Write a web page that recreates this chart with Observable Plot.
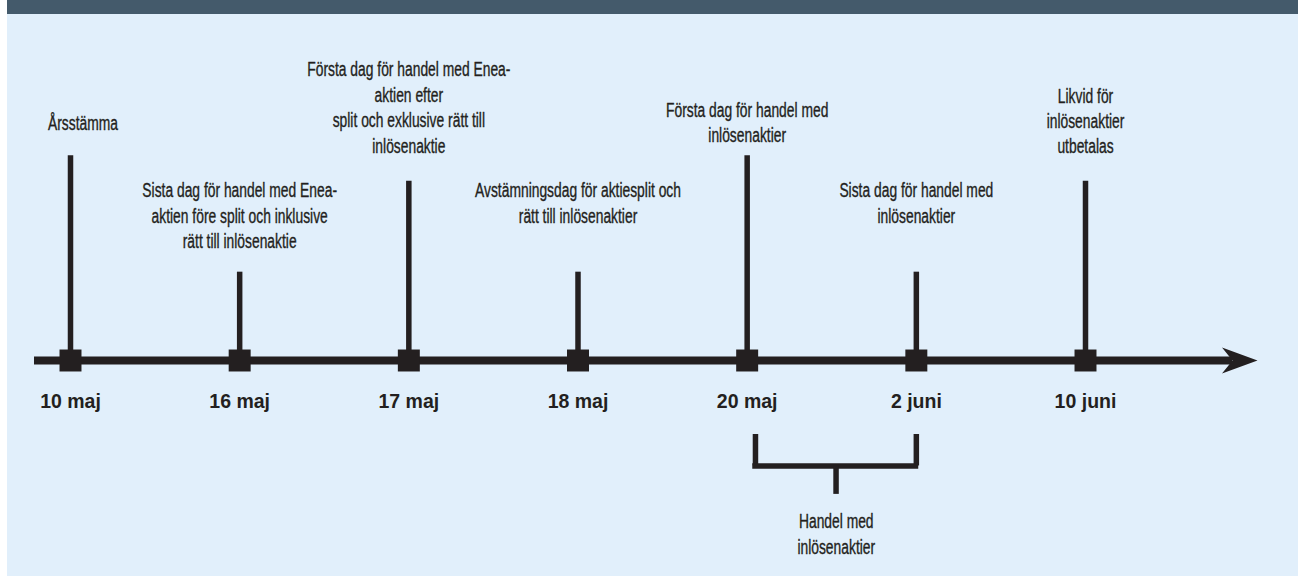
<!DOCTYPE html>
<html><head><meta charset="utf-8">
<script src="https://cdn.jsdelivr.net/npm/d3@7"></script>
<script src="https://cdn.jsdelivr.net/npm/@observablehq/plot@0.6"></script>
<style>
html,body{margin:0;padding:0;background:#fff;}
#wrap{position:relative;width:1298px;height:576px;overflow:hidden;}
#header{position:absolute;left:7px;top:0;width:1291px;height:14px;background:#445a6b;}
#panel{position:absolute;left:7px;top:14px;width:1291px;height:562px;background:#e1effb;}
#chart{position:absolute;left:0;top:14px;}
</style></head><body>
<div id="wrap"><div id="header"></div><div id="panel"></div><div id="chart"></div></div>
<script>
// ---- data ----
const dates = ["10 maj","16 maj","17 maj","18 maj","20 maj","2 juni","10 juni"];
const events = [
  "Årsstämma",
  "Sista dag för handel med Enea-\naktien före split och inklusive\nrätt till inlösenaktie",
  "Första dag för handel med Enea-\naktien efter\nsplit och exklusive rätt till\ninlösenaktie",
  "Avstämningsdag för aktiesplit och\nrätt till inlösenaktier",
  "Första dag för handel med\ninlösenaktier",
  "Sista dag för handel med\ninlösenaktier",
  "Likvid för\ninlösenaktier\nutbetalas"
];
const stemHeights = [8.0, 3.45, 7.0, 3.45, 8.0, 3.45, 7.0];
const labelLevels = [9.02, 4.4, 8.125, 5.39, 8.52, 5.39, 8.09];
const labelShift = [0.074, 0, 0, 0, 0, 0, 0];
const periodFrom = "20 maj";
const periodTo = "2 juni";
const periodLabel = "Handel med\ninlösenaktier";
const bracketLegTop = -2.89, bracketBar = -4.12, bracketStemEnd = -5.23, bracketLabel = -7.54;

// ---- build ----
const ink = "#231f20";
const rows = dates.map((d, i) => ({i, date: d, label: events[i], stem: stemHeights[i], lab: labelLevels[i], lx: i + labelShift[i]}));
const last = dates.length - 1;
const iFrom = dates.indexOf(periodFrom), iTo = dates.indexOf(periodTo), iMid = (iFrom + iTo) / 2;
const labelFont = "'Liberation Sans', Arial, sans-serif";
const arrowSymbol = {draw(ctx) { ctx.moveTo(0, 0); ctx.lineTo(-35.5, -13); ctx.lineTo(-25, 0); ctx.lineTo(-35.5, 13); ctx.closePath(); }};
const labelStyle = {lineAnchor: "bottom", lineHeight: 1.3, fontFamily: labelFont, fontSize: 19.5, fill: ink, stroke: ink, strokeWidth: 0.35};

const chart = Plot.plot({
  width: 1298, height: 562, margin: 0,
  style: {background: "transparent", overflow: "visible"},
  x: {type: "linear", domain: [0, last], range: [70, 1085], axis: null},
  y: {type: "linear", domain: [0, 10], range: [346, 90], axis: null},
  marks: [
    Plot.ruleX(rows, {x: "i", y1: 0, y2: "stem", stroke: ink, strokeWidth: 5.5}),
    Plot.ruleY([{a: 0, b: last}], {x1: "a", x2: "b", y: 0, insetLeft: -36, insetRight: -147, stroke: ink, strokeWidth: 8}),
    Plot.dot([{i: last}], {x: "i", y: 0, dx: 172, symbol: arrowSymbol, r: 10, fill: ink, stroke: "none"}),
    Plot.dot(rows, {x: "i", y: 0, symbol: "square", r: 12.4, fill: ink, stroke: "none"}),
    Plot.text(rows, {x: "i", y: 0, dy: 47, text: "date", lineAnchor: "bottom", fontFamily: labelFont, fontWeight: "bold", fontSize: 19.5, fill: ink}),
    Plot.text(rows, {x: "lx", y: "lab", text: "label", ...labelStyle}),
    // bracket for trading period
    Plot.ruleX([{x: iFrom}], {x: "x", dx: 8.3, y1: bracketLegTop, y2: bracketBar, stroke: ink, strokeWidth: 5.5}),
    Plot.ruleX([{x: iTo}], {x: "x", y1: bracketLegTop, y2: bracketBar, stroke: ink, strokeWidth: 5.5}),
    Plot.ruleY([{a: iFrom, b: iTo}], {x1: "a", x2: "b", y: bracketBar, insetLeft: 5.6, insetRight: -2.4, stroke: ink, strokeWidth: 5.5}),
    Plot.ruleX([{x: iMid}], {x: "x", dx: 4.3, y1: bracketBar, y2: bracketStemEnd, stroke: ink, strokeWidth: 5.5}),
    Plot.text([{x: iMid, t: periodLabel}], {x: "x", dx: 4.5, y: bracketLabel, text: "t", ...labelStyle})
  ]
});
document.getElementById("chart").appendChild(chart);
// condense the (non-bold) event labels horizontally, like the condensed face of the original
d3.select(chart).selectAll("g").filter(function() {
  return this.querySelector(":scope > text") && this.getAttribute("font-weight") !== "bold";
}).selectAll(":scope > text").each(function() {
  const t = this.getAttribute("transform");
  if (t && t.includes("translate")) {
    this.setAttribute("transform", t + " scale(0.71,1)");
  } else {
    const x = +(this.getAttribute("x") || 0), y = +(this.getAttribute("y") || 0);
    this.removeAttribute("x"); this.removeAttribute("y");
    this.setAttribute("transform", `translate(${x},${y}) ${t || ""} scale(0.71,1)`);
  }
});
</script>
</body></html>
